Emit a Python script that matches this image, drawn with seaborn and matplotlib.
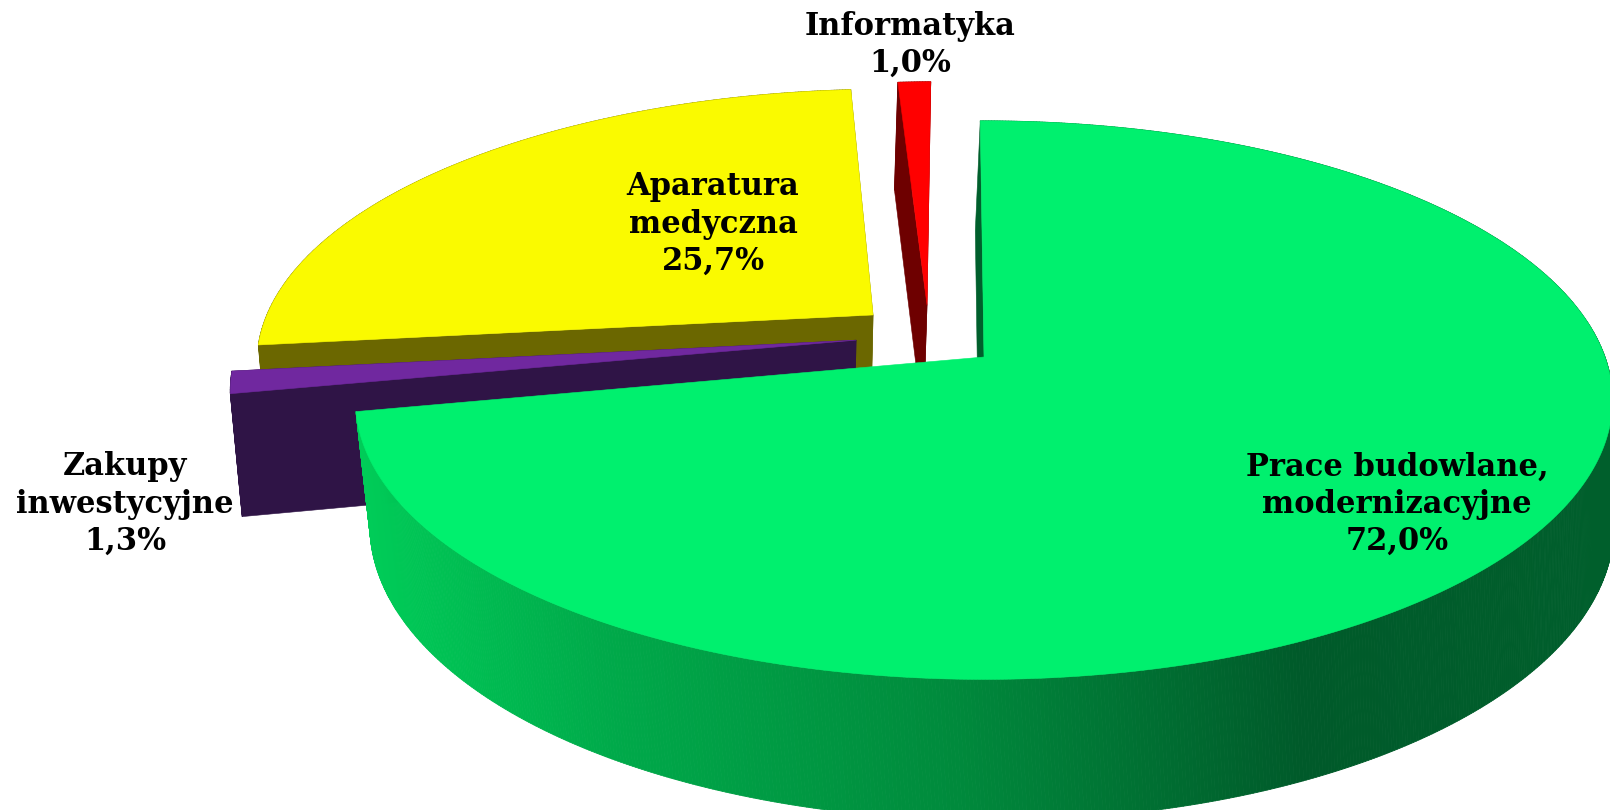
import numpy as np
import matplotlib
matplotlib.use("Agg")
import matplotlib.pyplot as plt
from matplotlib.collections import PolyCollection
import seaborn as sns

# --- data ---
labels = ["Prace budowlane,\nmodernizacyjne", "Zakupy\ninwestycyjne", "Aparatura\nmedyczna", "Informatyka"]
shares = [72.0, 1.3, 25.7, 1.0]
share_text = ["72,0%", "1,3%", "25,7%", "1,0%"]

# --- style ---
top_colors = ["#00F06E", "#70289F", "#FAFA00", "#FF0000"]
wall_colors = ["#005F2C", "#2F1446", "#6B6700", "#6E0000"]
explode_u = [0.0, -0.208, -0.183, -0.0945]
explode_v = [0.0, 0.0624, 0.158, 0.196]
label_xy = [(1397, 504), (125, 504), (713, 224), (910, 45)]
gradient_x = [360, 600, 950, 1300, 1610]
gradient_rgb = ["#00CC58", "#00AA4A", "#008A3C", "#005A2A", "#005F2C"]

# perspective camera
CX, CY, A, B, K = 984.0, 357.0, 621.0, 272.6, 0.1544
DEPTH = 124.0
FACE_ZOOM, FACE_DX = 0.0225, -5.0
RIM_ZOOM, RIM_DX = 0.01, 8.0
START_ANGLE = -0.4

sns.set_theme(style="white")
plt.rcParams["font.family"] = ["DejaVu Serif"]
palette_top = sns.color_palette(top_colors)
palette_wall = sns.color_palette(wall_colors)
grad = np.array(sns.color_palette(gradient_rgb))


def project(u, v, z=0.0, zoom=FACE_ZOOM, dx=FACE_DX):
    u, v = np.asarray(u, float), np.asarray(v, float)
    w = 1 + K * v + zoom * z
    return CX + A * u / w + dx * z, CY + (-B * v + DEPTH * z) / w


fig = plt.figure(figsize=(16.1, 8.1), dpi=100)
ax = fig.add_axes([0, 0, 1, 1])
ax.set_xlim(0, 1610)
ax.set_ylim(810, 0)
ax.axis("off")

edges = START_ANGLE + 3.6 * np.concatenate([[0], np.cumsum(shares)])


def draw_slice(i, z0):
    t = np.radians(np.linspace(edges[i], edges[i + 1], max(int(shares[i] * 12), 8) + 1))
    u = np.sin(t) + explode_u[i]
    v = np.cos(t) + explode_v[i]
    ou, ov = explode_u[i], explode_v[i]
    col_w, col_t = palette_wall[i], palette_top[i]
    # cut faces; the large slice only shows the one at its start
    faces = [(u[0], v[0])] if i == 0 else [(u[0], v[0]), (u[-1], v[-1])]
    for uu, vv in faces:
        xs = [project(ou, ov)[0], project(uu, vv)[0], project(uu, vv, 1)[0], project(ou, ov, 1)[0]]
        ys = [project(ou, ov)[1], project(uu, vv)[1], project(uu, vv, 1)[1], project(ou, ov, 1)[1]]
        ax.fill(xs, ys, color=col_w, lw=0.4, zorder=z0)
    # outer wall, split in strips so that a shading can run along it
    x0, y0 = project(u, v)
    if i == 0:
        x1, y1 = project(u, v, 1, RIM_ZOOM, RIM_DX)
    else:
        x1, y1 = project(u, v, 1)
    quads = [[(x0[j], y0[j]), (x0[j + 1], y0[j + 1]), (x1[j + 1], y1[j + 1]), (x1[j], y1[j])] for j in range(len(u) - 1)]
    if i == 0:
        xm = (x0[:-1] + x0[1:]) / 2
        fc = np.column_stack([np.interp(xm, gradient_x, grad[:, c]) for c in range(3)])
    else:
        fc = [col_w] * len(quads)
    ax.add_collection(PolyCollection(quads, facecolors=fc, edgecolors=fc, linewidths=0.6, zorder=z0 + 0.1))
    # top surface
    xa, ya = project(ou, ov)
    ax.fill(np.r_[xa, x0], np.r_[ya, y0], color=col_t, lw=0.4, zorder=z0 + 0.2)


for z, i in enumerate([3, 2, 1, 0]):
    draw_slice(i, 2 + z)

for i in range(len(labels)):
    ax.text(*label_xy[i], labels[i] + "\n" + share_text[i], ha="center", va="center", ma="center",
            fontsize=22, fontweight="bold", color="black", linespacing=1.25, zorder=10)

fig.savefig("out.png", dpi=100, facecolor="white")
